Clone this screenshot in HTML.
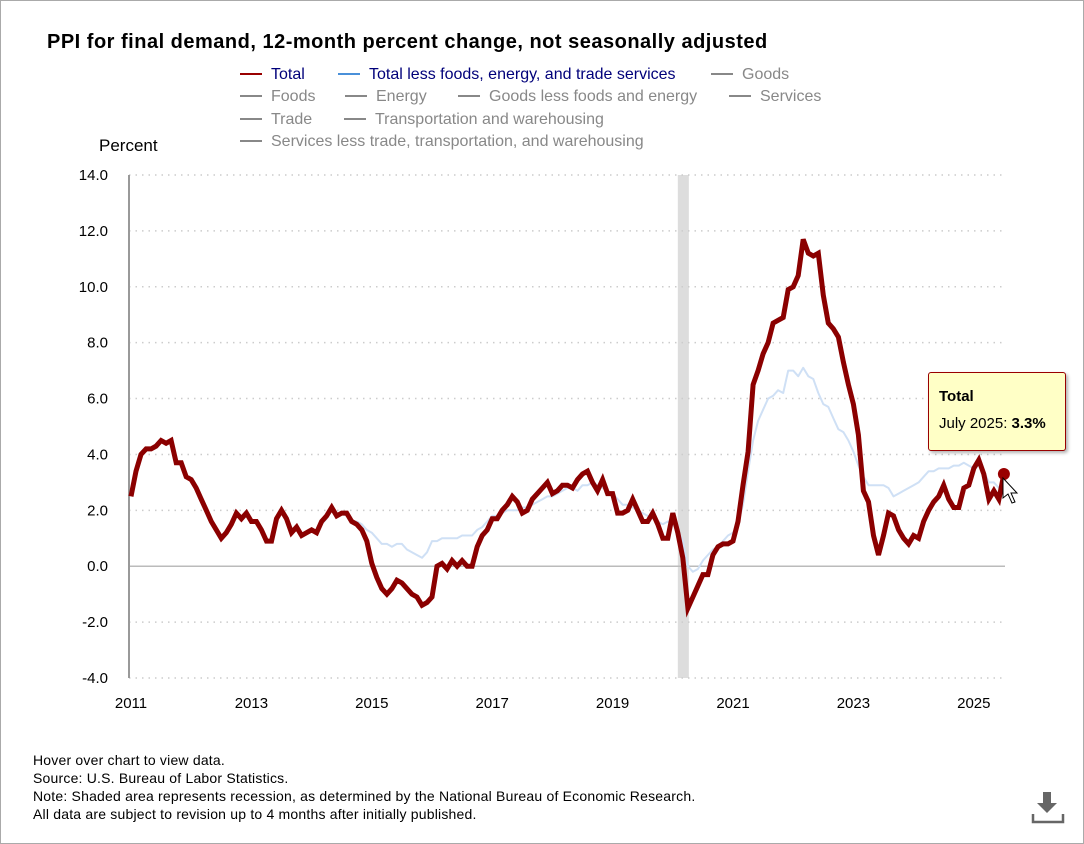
<!DOCTYPE html>
<html><head><meta charset="utf-8"><style>
body{margin:0;width:1084px;height:844px;background:#fff;font-family:"Liberation Sans",sans-serif;overflow:hidden}
#frame{position:absolute;left:0;top:0;width:1082px;height:842px;border:1px solid #aaa}
.t{position:absolute;white-space:nowrap}
.leg{position:absolute;font-size:16px;color:#888;white-space:nowrap}
.leg i{display:inline-block;width:22px;height:2px;background:#888;vertical-align:middle;margin-right:9px;position:relative;top:-1px}
.foot{position:absolute;left:33px;font-size:14px;letter-spacing:0.2px;color:#000}
</style></head><body>
<div id="frame"></div>
<div class="t" style="left:47px;top:31px;font-size:20px;letter-spacing:0.5px;font-weight:bold">PPI for final demand, 12-month percent change, not seasonally adjusted</div>
<div class="leg" style="left:240px;top:66px;color:#00007a"><i style="background:#900"></i>Total</div>
<div class="leg" style="left:338px;top:66px;color:#00007a"><i style="background:#4a90d9"></i>Total less foods, energy, and trade services</div>
<div class="leg" style="left:711px;top:66px"><i></i>Goods</div>
<div class="leg" style="left:240px;top:88px"><i></i>Foods</div>
<div class="leg" style="left:345px;top:88px"><i></i>Energy</div>
<div class="leg" style="left:458px;top:88px"><i></i>Goods less foods and energy</div>
<div class="leg" style="left:729px;top:88px"><i></i>Services</div>
<div class="leg" style="left:240px;top:111px"><i></i>Trade</div>
<div class="leg" style="left:344px;top:111px"><i></i>Transportation and warehousing</div>
<div class="leg" style="left:240px;top:133px"><i></i>Services less trade, transportation, and warehousing</div>
<div class="t" style="left:99px;top:136px;font-size:17px">Percent</div>
<svg id="chart" width="1084" height="844" style="position:absolute;left:0;top:0"></svg>
<div class="foot" style="top:752px">Hover over chart to view data.</div>
<div class="foot" style="top:770px">Source: U.S. Bureau of Labor Statistics.</div>
<div class="foot" style="top:788px">Note: Shaded area represents recession, as determined by the National Bureau of Economic Research.</div>
<div class="foot" style="top:806px">All data are subject to revision up to 4 months after initially published.</div>
<svg width="34" height="34" style="position:absolute;left:1031px;top:790px"><path d="M12 2h8v11h6l-10 10-10-10h6z" fill="#666"/><path d="M2 24v8h30v-8" fill="none" stroke="#666" stroke-width="2.5"/></svg>
<div class="t" style="left:928px;top:372px;width:136px;height:77px;background:#ffffc6;border:1px solid #900;border-radius:3px;box-shadow:2px 2px 3px rgba(0,0,0,.3);font-size:15px">
<div style="position:absolute;left:10px;top:15px;font-weight:bold">Total</div>
<div style="position:absolute;left:10px;top:42px">July 2025: <b>3.3%</b></div></div>
<script>
const startYear=2011;
const totalValues=[2.5,3.4,4.0,4.2,4.2,4.3,4.5,4.4,4.5,3.7,3.7,3.2,
3.1,2.8,2.4,2.0,1.6,1.3,1.0,1.2,1.5,1.9,1.7,1.9,
1.6,1.6,1.3,0.9,0.9,1.7,2.0,1.7,1.2,1.4,1.1,1.2,
1.3,1.2,1.6,1.8,2.1,1.8,1.9,1.9,1.6,1.5,1.3,0.9,
0.1,-0.4,-0.8,-1.0,-0.8,-0.5,-0.6,-0.8,-1.0,-1.1,-1.4,-1.3,
-1.1,0.0,0.1,-0.1,0.2,0.0,0.2,0.0,0.0,0.7,1.1,1.3,
1.7,1.7,2.0,2.2,2.5,2.3,1.9,2.0,2.4,2.6,2.8,3.0,
2.6,2.7,2.9,2.9,2.8,3.1,3.3,3.4,3.0,2.7,3.1,2.6,
2.6,1.9,1.9,2.0,2.4,2.0,1.6,1.6,1.9,1.5,1.0,1.0,
1.9,1.2,0.3,-1.5,-1.1,-0.7,-0.3,-0.3,0.4,0.7,0.8,0.8,
0.9,1.6,2.9,4.1,6.5,7.0,7.6,8.0,8.7,8.8,8.9,9.9,
10.0,10.4,11.7,11.2,11.1,11.2,9.7,8.7,8.5,8.2,7.3,6.5,
5.8,4.7,2.7,2.3,1.1,0.4,1.1,1.9,1.8,1.3,1.0,0.8,
1.1,1.0,1.6,2.0,2.3,2.5,2.9,2.4,2.1,2.1,2.8,2.9,
3.5,3.8,3.3,2.4,2.7,2.4,3.3];
const coreStart=36;
const coreValues=[1.3,1.2,1.5,1.7,2.0,1.8,1.9,1.8,1.6,1.6,1.5,1.3,
1.2,1.0,0.8,0.8,0.7,0.8,0.8,0.6,0.5,0.4,0.3,0.5,
0.9,0.9,1.0,1.0,1.0,1.0,1.1,1.1,1.1,1.3,1.4,1.6,
1.8,1.8,1.9,2.0,2.0,2.0,2.1,2.1,2.2,2.3,2.4,2.5,
2.5,2.6,2.7,2.8,2.8,2.7,2.9,2.9,3.0,2.9,2.8,2.7,
2.6,2.4,2.2,2.2,2.1,2.0,1.9,1.8,1.7,1.6,1.5,1.6,
1.5,1.3,0.9,0.0,-0.2,-0.1,0.2,0.4,0.6,0.7,0.9,1.1,
1.2,1.5,2.2,3.4,4.5,5.2,5.6,6.0,6.1,6.3,6.2,7.0,
7.0,6.8,7.1,6.8,6.7,6.2,5.8,5.7,5.3,4.9,4.8,4.5,
4.1,3.6,3.2,2.9,2.9,2.9,2.9,2.8,2.5,2.6,2.7,2.8,
2.9,3.0,3.2,3.4,3.4,3.5,3.5,3.5,3.6,3.6,3.7,3.6,
3.5,3.6,3.4,3.0,3.0,2.8,2.9];
const yTicks=[14,12,10,8,6,4,2,0,-2,-4];
const xTickYears=[2011,2013,2015,2017,2019,2021,2023,2025];
const recession=[2020+1/12,2020+3/12];
const NS="http://www.w3.org/2000/svg";
const svg=document.getElementById('chart');
const X0=131,PXY=60.2,Y0=175,YMAX=14,PXU=503/18;
const xs=t=>X0+(t-startYear)*PXY;
const ys=v=>Y0+(YMAX-v)*PXU;
function mk(tag,at){const e=document.createElementNS(NS,tag);for(const k in at)e.setAttribute(k,at[k]);svg.appendChild(e);return e;}
let r=mk('rect',{x:xs(recession[0]),y:ys(14),width:xs(recession[1])-xs(recession[0])+1,height:ys(-4)-ys(14),fill:'#ddd'});


yTicks.forEach(v=>{
 let l=mk('line',{x1:129,x2:1005,y1:ys(v),y2:ys(v),stroke:v===0?'#bbb':'#ccc','stroke-width':1.5,'stroke-dasharray':v===0?'':'1.5 5'});
 
 
 let t=mk('text',{x:108,y:ys(v)+5,'text-anchor':'end','font-size':15,'font-family':'Liberation Sans'});
 t.textContent=v.toFixed(1);
 
 
});
let ax=mk('line',{x1:129,x2:129,y1:175,y2:ys(-4),stroke:'#999','stroke-width':2});


xTickYears.forEach(y=>{
 let t=mk('text',{x:xs(y),y:708,'text-anchor':'middle','font-size':15,'font-family':'Liberation Sans'});
 t.textContent=y;
 
 
});
const pts=(arr,off)=>arr.map((v,i)=>xs(startYear+(i+off)/12).toFixed(1)+','+ys(v).toFixed(1)).join(' ');
let c=mk('polyline',{points:pts(coreValues,coreStart),fill:'none',stroke:'#cfe0f5','stroke-width':2,'stroke-linejoin':'round'});


let p=mk('polyline',{points:pts(totalValues,0),fill:'none',stroke:'#8b0000','stroke-width':5,'stroke-linejoin':'miter'});


const li=totalValues.length-1;
let d=mk('circle',{cx:xs(startYear+li/12),cy:ys(totalValues[li]),r:6,fill:'#990000'});


let cur=mk('path',{d:'M1003 478 l0 20 l5 -4 l4 9 l3 -1 l-4 -9 l6 0 z',fill:'#fff',stroke:'#000','stroke-width':1});


</script>
</body></html>
